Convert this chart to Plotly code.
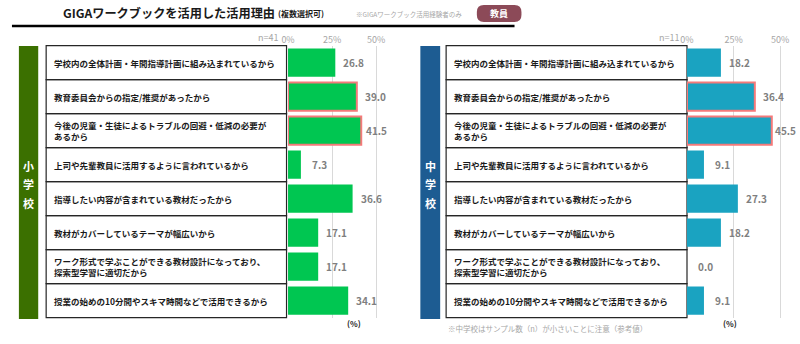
import plotly.graph_objects as go

# ---------------- data ----------------
reasons = [
    "学校内の全体計画・年間指導計画に組み込まれているから",
    "教育委員会からの指定/推奨があったから",
    "今後の児童・生徒によるトラブルの回避・低減の必要が<br>あるから",
    "上司や先輩教員に活用するように言われているから",
    "指導したい内容が含まれている教材だったから",
    "教材がカバーしているテーマが幅広いから",
    "ワーク形式で学ぶことができる教材設計になっており、<br>探索型学習に適切だから",
    "授業の始めの10分間やスキマ時間などで活用できるから",
]
elem_values = [26.8, 39.0, 41.5, 7.3, 36.6, 17.1, 17.1, 34.1]
junior_values = [18.2, 36.4, 45.5, 9.1, 27.3, 18.2, 0.0, 9.1]
elem_highlight = [False, True, True, False, False, False, False, False]
junior_highlight = [False, True, True, False, False, False, False, False]
tick_vals = [0, 25, 50]
tick_text = ["0%", "25%", "50%"]
elem_n = "n=41"
junior_n = "n=11"
title_text = "GIGAワークブックを活用した活用理由"
title_sub = "(複数選択可)"
title_note = "※GIGAワークブック活用経験者のみ"
badge_text = "教員"
note_text = "※中学校はサンプル数（n）が小さいことに注意（参考値）"

# ---------------- layout helpers ----------------
W, H = 800, 344
FONT = "Noto Sans CJK JP"


def px(x):
    return x / W


def py(y):
    return 1 - y / H


ROW_TOP = 45.7
ROW_H = 34.0
N = len(reasons)
ROW_BOTTOM = ROW_TOP + N * ROW_H
cats = [f"r{i}" for i in range(N)]

GREEN = "#00C651"
BLUE = "#1AA3C1"
RED = "#F47A7A"
GREEN_BAND = "#3B7000"
BLUE_BAND = "#1D5C92"

L0 = 283.5
L_SCALE = 1.78
R0 = 686.0
R_SCALE = 1.88

fig = go.Figure()
shapes = []
annots = []


def add_panel(values, highlight, color, xaxis, yaxis, x0px, scale, max_start):
    fig.add_trace(go.Bar(
        x=values, y=cats, orientation="h",
        marker=dict(
            color=color,
            line=dict(color=[RED if h else color for h in highlight],
                      width=[2 if h else 0 for h in highlight]),
        ),
        xaxis=xaxis, yaxis=yaxis, showlegend=False, hoverinfo="skip",
    ))
    for c, v in zip(cats, values):
        end_px = x0px + v * scale
        gap = 9 if v < 10 else 6
        start = min(end_px + gap, max_start)
        annots.append(dict(
            x=v, y=c, xref=xaxis, yref=yaxis, text=f"<b>{v:.1f}</b>",
            showarrow=False, xanchor="left", yanchor="middle", xshift=start - end_px,
            font=dict(family=FONT, size=10, color="#7F7F7F"),
        ))


add_panel(elem_values, elem_highlight, GREEN, "x", "y", L0, L_SCALE, 360)
add_panel(junior_values, junior_highlight, BLUE, "x2", "y2", R0, R_SCALE, 772.5)

xcommon = dict(side="top", tickvals=tick_vals, ticktext=tick_text, showgrid=True,
               gridcolor="#D9D9D9", gridwidth=1, zeroline=False, showline=False,
               ticks="", tickfont=dict(family=FONT, size=9, color="#A6A6A6"),
               fixedrange=True)
ycommon = dict(domain=[py(ROW_BOTTOM), py(ROW_TOP)], categoryorder="array",
               categoryarray=cats, autorange="reversed", showticklabels=False,
               showgrid=False, zeroline=False, showline=False, ticks="")

fig.update_layout(
    xaxis=dict(domain=[px(L0), px(L0 + 55 * L_SCALE)], range=[0, 55], anchor="y", **xcommon),
    xaxis2=dict(domain=[px(R0), px(R0 + 58 * R_SCALE)], range=[0, 58], anchor="y2", **xcommon),
    yaxis=dict(anchor="x", **ycommon),
    yaxis2=dict(anchor="x2", **ycommon),
    bargap=0.17,
)


def txt(x, y, text, size, color, xanchor="center", yanchor="middle", align="center"):
    annots.append(dict(x=px(x), y=py(y), xref="paper", yref="paper", text=text,
                       showarrow=False, xanchor=xanchor, yanchor=yanchor, align=align,
                       font=dict(family=FONT, size=size, color=color)))


def add_labels(box_x0, box_x1, band_x0, band_x1, band_color, band_chars):
    shapes.append(dict(type="rect", xref="paper", yref="paper",
                       x0=px(band_x0), x1=px(band_x1), y0=py(319), y1=py(46),
                       fillcolor=band_color, line=dict(width=0), layer="below"))
    cx = (band_x0 + band_x1) / 2
    for ch, yy in zip(band_chars, [166, 184.5, 203]):
        txt(cx, yy, f"<b>{ch}</b>", 11, "white")
    for i, lab in enumerate(reasons):
        top = ROW_TOP + i * ROW_H
        shapes.append(dict(type="rect", xref="paper", yref="paper",
                           x0=px(box_x0), x1=px(box_x1), y0=py(top + ROW_H), y1=py(top),
                           line=dict(color="#262626", width=1.2), layer="below"))
        txt(box_x0 + 6, top + ROW_H / 2, f"<b>{lab}</b>", 8.5, "#1A1A1A",
            xanchor="left", align="left")


add_labels(39.5, 282, 12, 31.5, GREEN_BAND, ["小", "学", "校"])
add_labels(443, 686, 417, 437, BLUE_BAND, ["中", "学", "校"])

# n labels
txt(263, 38, elem_n, 9, "#A6A6A6")
txt(668, 38, junior_n, 9, "#A6A6A6")
# (%) labels
for xx in [350, 729]:
    txt(xx, 323, "<b>(%)</b>", 8, "#262626")
# bottom note
txt(443, 328, note_text, 7.5, "#A6A6A6", xanchor="left")

# title block
txt(54, 13, f"<b>{title_text}</b>", 12.2, "#1A1A1A", xanchor="left")
txt(271, 14, f"<b>{title_sub}</b>", 8, "#1A1A1A", xanchor="left")
txt(350, 14, title_note, 6.5, "#A6A6A6", xanchor="left")

# rounded badge
bx0, bx1, by0, by1, r = 474, 519, 5, 22, 7
pts = [
    f"M {px(bx0 + r)},{py(by0)}",
    f"L {px(bx1 - r)},{py(by0)}",
    f"Q {px(bx1)},{py(by0)} {px(bx1)},{py(by0 + r)}",
    f"L {px(bx1)},{py(by1 - r)}",
    f"Q {px(bx1)},{py(by1)} {px(bx1 - r)},{py(by1)}",
    f"L {px(bx0 + r)},{py(by1)}",
    f"Q {px(bx0)},{py(by1)} {px(bx0)},{py(by1 - r)}",
    f"L {px(bx0)},{py(by0 + r)}",
    f"Q {px(bx0)},{py(by0)} {px(bx0 + r)},{py(by0)}",
    "Z",
]
shapes.append(dict(type="path", xref="paper", yref="paper", path=" ".join(pts),
                   fillcolor="#8C4A58", line=dict(width=0), layer="below"))
txt((bx0 + bx1) / 2, 13.5, f"<b>{badge_text}</b>", 9, "white")
shapes.append(dict(type="line", xref="paper", yref="paper", x0=px(5), x1=px(512),
                   y0=py(26), y1=py(26), line=dict(color="black", width=2.5),
                   layer="below"))

fig.update_layout(
    width=W, height=H, margin=dict(l=0, r=0, t=0, b=0),
    paper_bgcolor="white", plot_bgcolor="white",
    shapes=shapes, annotations=annots,
    font=dict(family=FONT),
)

fig.write_html("out.html", config={"displayModeBar": False})
